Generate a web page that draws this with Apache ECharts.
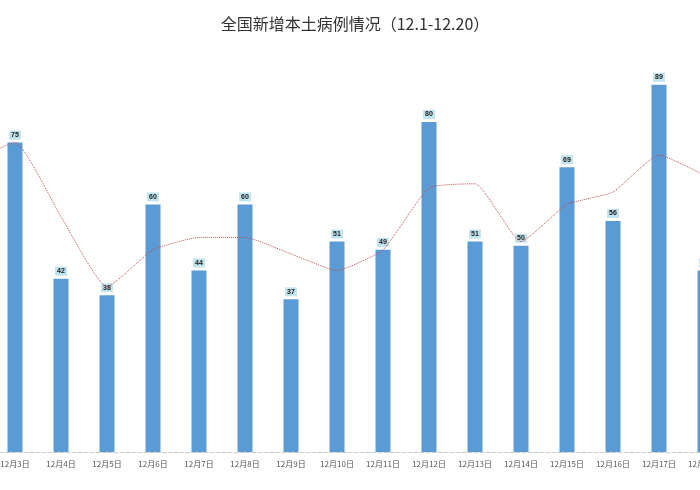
<!DOCTYPE html>
<html>
<head>
<meta charset="utf-8">
<script src="https://cdn.jsdelivr.net/npm/echarts@6/dist/echarts.min.js"></script>
<style>html,body{margin:0;padding:0;background:#fff;overflow:hidden}#main{width:782px;height:490px;margin-left:-54px}</style>
</head>
<body>
<div id="main"></div>
<script>
var days = ["12月2日","12月3日","12月4日","12月5日","12月6日","12月7日","12月8日","12月9日","12月10日","12月11日","12月12日","12月13日","12月14日","12月15日","12月16日","12月17日","12月18日"];
var cases = [null,75,42,38,60,44,60,37,51,49,80,51,50,69,56,89,44];
var trend = [70,75,57,40,49,52,52,48,44,49,64,65,51,60,63,72,67];

var chart = echarts.init(document.getElementById("main"));
chart.setOption({
  animation: false,
  title: {
    text: "全国新增本土病例情况（12.1-12.20）",
    left: 404, top: 11, textAlign: "center",
    textStyle: {fontSize: 16, fontWeight: "normal", color: "#333", fontFamily: "Noto Sans CJK SC"}
  },
  grid: {left: 0, right: 0, top: 60, bottom: 38},
  xAxis: {
    type: "category", data: days,
    axisLine: {lineStyle: {color: "#ccc", type: "dashed"}},
    axisTick: {show: false},
    axisLabel: {fontSize: 8, color: "#555", interval: 0, fontFamily: "Noto Sans CJK SC"}
  },
  yAxis: {type: "value", min: 0, max: 95, show: false, splitLine: {show: false}},
  series: [
    {
      type: "bar", data: cases, barWidth: 15,
      itemStyle: {color: "#5b9bd5"},
      label: {
        show: true, position: "top", fontSize: 7, fontWeight: "bold", color: "#222",
        backgroundColor: "#bfe3ef", padding: [1, 2], distance: 3
      }
    },
    {
      type: "line", data: trend, smooth: 0.15, symbol: "none",
      lineStyle: {color: "#c0504d", width: 1, type: "dotted"}
    }
  ]
});
</script>
</body>
</html>
